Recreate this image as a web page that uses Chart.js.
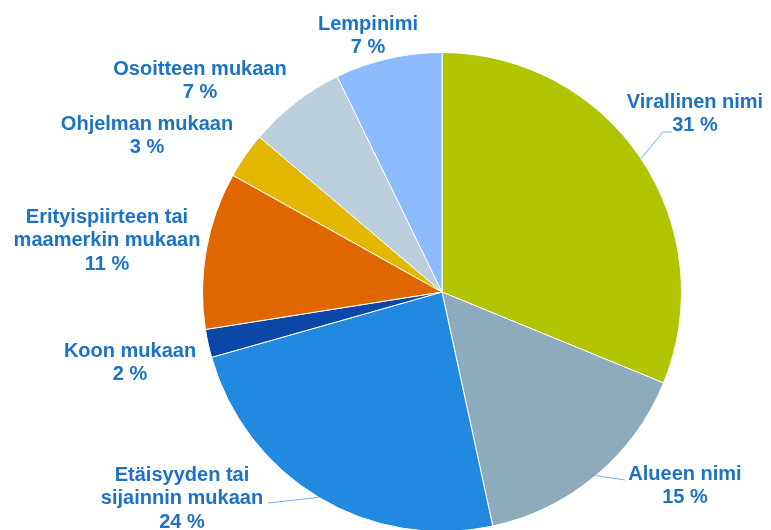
<!DOCTYPE html>
<html>
<head>
<meta charset="utf-8">
<script src="https://cdn.jsdelivr.net/npm/chart.js@4/dist/chart.umd.min.js"></script>
<style>
  html, body { margin: 0; padding: 0; background: #fff; overflow: hidden; }
</style>
</head>
<body>
<canvas id="PIE_CHART" width="771" height="584"></canvas>
<script>
// clockwise from 12 o'clock
const categories = ['Virallinen nimi', 'Alueen nimi', 'Etäisyyden tai\nsijainnin mukaan', 'Koon mukaan',
    'Erityispiirteen tai\nmaamerkin mukaan', 'Ohjelman mukaan', 'Osoitteen mukaan', 'Lempinimi'];
const shares = [31.2, 15.4, 24.0, 1.9, 10.6, 3.1, 6.6, 7.2];
const sliceColors = ['#b0c400', '#8eabbd', '#2289e0', '#0a47a6', '#e06600', '#e3b600', '#bccfdc', '#8bbaff'];

// where each label block sits (centre of first line), and which ones get a leader line
const labelPos = [
    { x: 695, y: 102, line: [[672, 132], [663, 132]] },
    { x: 685, y: 474, line: [[625, 480]] },
    { x: 182, y: 475, line: [[268, 503]] },
    { x: 130, y: 351 },
    { x: 107, y: 217 },
    { x: 147, y: 124 },
    { x: 200, y: 69 },
    { x: 368, y: 24 }
];

const outsideLabels = {
    id: 'outsideLabels',
    afterDatasetsDraw(chart) {
        const ctx = chart.ctx;
        const arcs = chart.getDatasetMeta(0).data;
        ctx.save();
        // leader lines
        ctx.strokeStyle = '#6fb0ee';
        ctx.lineWidth = 1;
        labelPos.forEach((p, i) => {
            if (!p.line) return;
            const a = arcs[i];
            const mid = (a.startAngle + a.endAngle) / 2;
            ctx.beginPath();
            ctx.moveTo(p.line[0][0], p.line[0][1]);
            p.line.slice(1).forEach(pt => ctx.lineTo(pt[0], pt[1]));
            ctx.lineTo(a.x + Math.cos(mid) * a.outerRadius, a.y + Math.sin(mid) * a.outerRadius);
            ctx.stroke();
        });
        // texts
        ctx.fillStyle = '#1c72c4';
        ctx.font = 'bold 20px "Liberation Sans", Arial, sans-serif';
        ctx.textAlign = 'center';
        ctx.textBaseline = 'middle';
        categories.forEach((c, i) => {
            const lines = c.split('\n').concat([Math.round(shares[i]) + ' %']);
            lines.forEach((t, k) => ctx.fillText(t, labelPos[i].x, labelPos[i].y + k * 23.5));
        });
        ctx.restore();
    }
};

new Chart(document.getElementById('PIE_CHART').getContext('2d'), {
    type: 'pie',
    data: {
        labels: categories,
        datasets: [{
            data: shares,
            backgroundColor: sliceColors,
            borderColor: '#ffffff',
            borderWidth: 1,
            hoverOffset: 0
        }]
    },
    options: {
        responsive: false,
        animation: false,
        layout: { padding: { left: 202, right: 89, top: 52, bottom: 52 } },
        plugins: {
            legend: { display: false },
            tooltip: { enabled: false }
        }
    },
    plugins: [outsideLabels]
});
</script>
</body>
</html>
